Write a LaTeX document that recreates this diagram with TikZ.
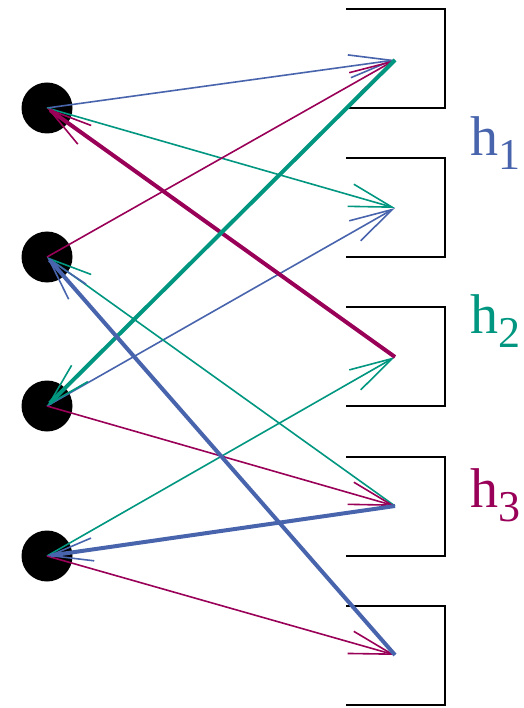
\documentclass[tikz,border=0pt]{standalone}
\usepackage{fontspec}
\newfontfamily\labelfont{Liberation Serif}
\definecolor{hblue}{RGB}{72,100,172}
\definecolor{hteal}{RGB}{0,150,128}
\definecolor{hmag}{RGB}{153,0,87}
\usetikzlibrary{arrows.meta}
\newcommand{\hsub}[1]{h\raisebox{-14pt}{\fontsize{44}{50}\selectfont #1}}

\begin{document}
\begin{tikzpicture}[x=1pt,y=-1pt,
  unit/.style={circle,fill=black,inner sep=0pt,minimum size=51pt},
  wire/.style={line width=1.6pt,-{Straight Barb[length=43pt,width=23pt,line width=1.6pt]}},
  heavy/.style={wire,line width=4pt},
  bracket/.style={draw=black,line width=2.2pt},
  hlabel/.style={font=\labelfont\fontsize{56}{66}\selectfont,anchor=base west,inner sep=0pt}
]
  \useasboundingbox (0,0) rectangle (523,708);

  % Brackets on the right
  \foreach \t in {9,158,307,457,606}
    \draw[bracket] (346,\t) -- (445,\t) -- (445,\t+99) -- (346,\t+99);

  % Input units
  \node[unit] (L1) at (47,108) {};
  \node[unit] (L2) at (47,257) {};
  \node[unit] (L3) at (47,406) {};
  \node[unit] (L4) at (47,556) {};

  % Output points
  \coordinate (R1) at (395,60);
  \coordinate (R2) at (395,208);
  \coordinate (R3) at (395,357);
  \coordinate (R4) at (395,506);
  \coordinate (R5) at (395,655);

  % Labels
  \node[hlabel,text=hblue] (h1) at (470,156) {\hsub{1}};
  \node[hlabel,text=hteal] (h2) at (470,333) {\hsub{2}};
  \node[hlabel,text=hmag] (h3) at (470,507) {\hsub{3}};

  % h1 (blue)
  \draw[wire,hblue] (L1.center) -- (R1);
  \draw[wire,hblue] (L3.center) -- (R2);
  % h2 (teal)
  \draw[wire,hteal] (L1.center) -- (R2);
  \draw[wire,hteal] (L4.center) -- (R3);
  \draw[wire,hteal] (R4) -- (L2.center);
  % h3 (magenta)
  \draw[wire,hmag] (L2.center) -- (R1);
  \draw[wire,hmag] (L3.center) -- (R4);
  \draw[wire,hmag] (L4.center) -- (R5);

  % Heavy connections
  \draw[heavy,hmag] (R3) -- (L1.center);
  \draw[heavy,hteal] (R1) -- (L3.center);
  \draw[heavy,hblue] (R5) -- (L2.center);
  \draw[heavy,hblue] (R4) -- (L4.center);
\end{tikzpicture}
\end{document}
